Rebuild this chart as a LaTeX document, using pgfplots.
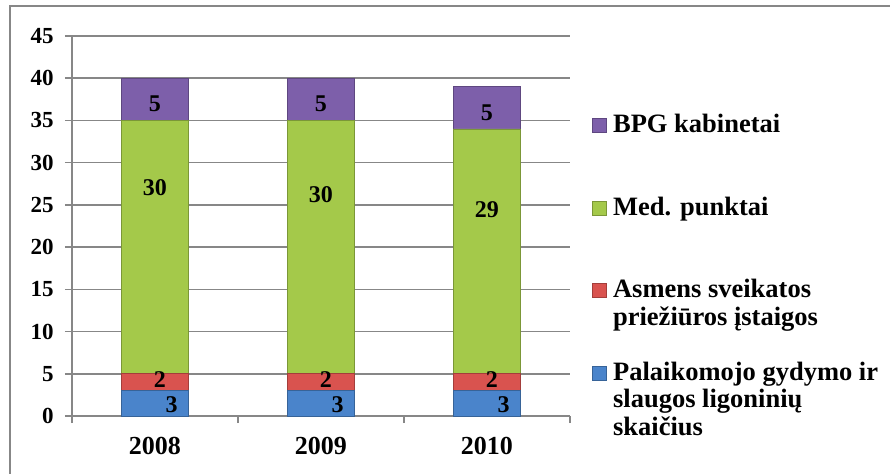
\documentclass[border=0pt]{standalone}
\usepackage{pgfplots}
\pgfplotsset{compat=1.18}
\usepackage{fontspec}
\setmainfont{Liberation Serif}
\definecolor{bpg}{HTML}{7D5FAA}
\definecolor{med}{HTML}{A4C94A}
\definecolor{asm}{HTML}{D9534F}
\definecolor{pal}{HTML}{4A84CB}
\definecolor{gridgray}{HTML}{878787}
\begin{document}
\begin{tikzpicture}
\useasboundingbox (-36pt,-28.5pt) rectangle (409pt,208pt);
% chart frame (right and bottom edges fall outside the picture)
\draw[gridgray, line width=0.9pt] (-31pt,-40pt) -- (-31pt,205pt) -- (420pt,205pt);
\begin{axis}[
  at={(0,0)}, anchor=south west,
  scale only axis, width=249pt, height=190pt,
  ybar stacked, bar width=33.5pt,
  xmin=-0.5, xmax=2.5, ymin=0, ymax=45,
  xtick={-0.5,0.5,1.5,2.5}, xticklabels={},
  extra x ticks={0,1,2}, extra x tick labels={2008,2009,2010},
  extra x tick style={major tick length=0pt,
    xticklabel style={font=\fontsize{13}{15}\selectfont\bfseries, inner sep=0pt, anchor=north, yshift=-10.5pt}},
  ytick={0,5,...,45},
  axis x line*=bottom, axis y line*=left,
  axis line style={gridgray, line width=0.8pt, -},
  ymajorgrids, grid style={gridgray, line width=0.8pt},
  tick align=outside, major tick length=3.5pt,
  tick style={gridgray, line width=0.8pt},
  /pgf/number format/assume math mode=true,
  yticklabel style={font=\fontsize{11.5}{13}\selectfont\bfseries, inner sep=0pt, anchor=east, xshift=-5.5pt},
  legend style={at={(1.044,0.784)}, anchor=north west, draw=none, fill=none,
    inner sep=0pt, row sep=32.5pt, column sep=3pt,
    font=\fontsize{13.25}{13.75}\selectfont\bfseries,
    nodes={inner sep=0pt, anchor=base west}},
  legend cell align=left,
  legend image code/.code={\fill[#1] (0pt,0pt) rectangle (7pt,7pt);},
  reverse legend,
]
\addplot[fill=pal, draw=pal!75!black, line width=0.4pt] coordinates {(0,3) (1,3) (2,3)};
\addlegendentry{\smash{\parbox[t]{140pt}{Palaikomojo gydymo ir\\slaugos ligoninių\\skaičius}}}
\addplot[fill=asm, draw=asm!75!black, line width=0.4pt] coordinates {(0,2) (1,2) (2,2)};
\addlegendentry{\smash{\parbox[t]{140pt}{Asmens sveikatos\\priežiūros įstaigos}}}
\addplot[fill=med, draw=med!75!black, line width=0.4pt] coordinates {(0,30) (1,30) (2,29)};
\addlegendentry{\smash{Med. punktai}}
\addplot[fill=bpg, draw=bpg!75!black, line width=0.4pt] coordinates {(0,5) (1,5) (2,5)};
\addlegendentry{\smash{BPG kabinetai}}
\end{axis}
% value labels, placed where the original chart shows them
\begin{axis}[
  at={(0,0)}, anchor=south west,
  scale only axis, width=249pt, height=190pt,
  xmin=-0.5, xmax=2.5, ymin=0, ymax=45, hide axis,
  nodes near coords, point meta=explicit symbolic,
  every node near coord/.append style={anchor=center, inner sep=0pt,
    font=\fontsize{12}{14}\selectfont\bfseries},
]
\addplot[draw=none, mark=none] coordinates {(0.1,1.3) [3] (1.1,1.3) [3] (2.1,1.3) [3]};
\addplot[draw=none, mark=none] coordinates {(0.03,4.26) [2] (1.03,4.26) [2] (2.03,4.26) [2]};
\addplot[draw=none, mark=none] coordinates {(0,27.1) [30] (1,26.2) [30] (2,24.4) [29]};
\addplot[draw=none, mark=none] coordinates {(0,37.0) [5] (1,37.0) [5] (2,35.9) [5]};
\end{axis}
\end{tikzpicture}
\end{document}
